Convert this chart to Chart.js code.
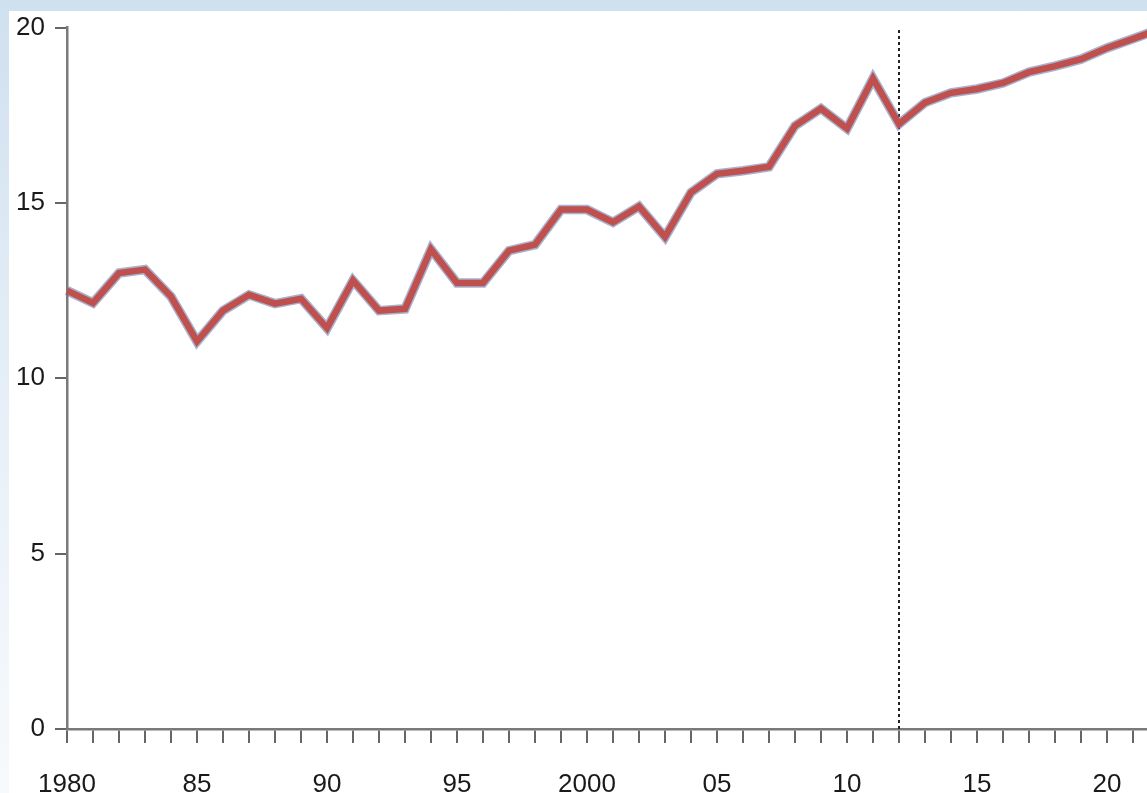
<!DOCTYPE html>
<html>
<head>
<meta charset="utf-8">
<script src="https://cdn.jsdelivr.net/npm/chart.js@4/dist/chart.umd.min.js"></script>
<style>
  html, body { margin: 0; padding: 0; width: 1147px; height: 793px; overflow: hidden; }
  body { background: linear-gradient(to bottom, #cfe0ef 0%, #e6eff7 50%, #f7fafc 100%); position: relative; }
  #panel { position: absolute; left: 9px; top: 11px; width: 1138px; height: 782px; background: #ffffff; overflow: hidden; }
  canvas { display: block; position: absolute; left: 0; top: -9px; }
</style>
</head>
<body>
<div id="panel"><canvas id="c" width="1150" height="791"></canvas></div>
<script>
const years = [1980,1981,1982,1983,1984,1985,1986,1987,1988,1989,
               1990,1991,1992,1993,1994,1995,1996,1997,1998,1999,
               2000,2001,2002,2003,2004,2005,2006,2007,2008,2009,
               2010,2011,2012,2013,2014,2015,2016,2017,2018,2019,
               2020,2021,2022];
const values = [12.5,12.15,13.0,13.1,12.33,11.05,11.93,12.38,12.13,12.27,
                11.43,12.79,11.93,11.98,13.68,12.72,12.72,13.64,13.81,14.81,
                14.81,14.45,14.9,14.03,15.3,15.83,15.92,16.03,17.2,17.69,
                17.12,18.55,17.25,17.86,18.14,18.25,18.42,18.73,18.9,19.1,
                19.42,19.68,19.95];
const forecastStartYear = 2012;
const yTicks = [0, 5, 10, 15, 20];
const xLabelFor = {1980:'1980',1985:'85',1990:'90',1995:'95',2000:'2000',2005:'05',2010:'10',2015:'15',2020:'20'};

const pts = years.map((y, i) => ({x: y, y: values[i]}));
const font = {family: "'Liberation Sans', Arial, Helvetica, sans-serif", size: 26};

new Chart(document.getElementById('c'), {
  type: 'line',
  data: {
    datasets: [
      { data: [{x: forecastStartYear, y: 0}, {x: forecastStartYear, y: 20}],
        borderColor: '#222', borderWidth: 2, borderDash: [3, 3], pointRadius: 0, order: 3 },
      { data: pts, borderColor: 'rgba(95,115,165,0.55)', borderWidth: 9.5, pointRadius: 0,
        tension: 0, order: 2, borderJoinStyle: 'miter', clip: 6 },
      { data: pts, borderColor: '#c0504d', borderWidth: 6.5, pointRadius: 0,
        tension: 0, order: 1, borderJoinStyle: 'miter', clip: 6 }
    ]
  },
  options: {
    responsive: false,
    animation: false,
    devicePixelRatio: 1,
    layout: { padding: { top: 8, right: 0, left: 0, bottom: 0 } },
    plugins: { legend: { display: false }, tooltip: { enabled: false } },
    scales: {
      x: {
        type: 'linear',
        min: 1980,
        max: 2021.55,
        afterBuildTicks: (s) => { s.ticks = years.filter(y => y <= 2021).map(v => ({value: v})); },
        afterFit: (s) => { s.height = 64; },
        border: { display: true, color: '#7a7a7a', width: 2.5 },
        grid: { display: true, drawOnChartArea: false, drawTicks: true, tickLength: 14, color: '#666', lineWidth: 2 },
        ticks: {
          autoSkip: false, maxRotation: 0, minRotation: 0, padding: 26,
          color: '#1a1a1a', font: font,
          callback: (v) => xLabelFor[v] || ''
        }
      },
      y: {
        min: 0,
        max: 20,
        afterBuildTicks: (s) => { s.ticks = yTicks.map(v => ({value: v})); },
        afterFit: (s) => { s.width = 58; },
        border: { display: true, color: '#7a7a7a', width: 2.5 },
        grid: { display: true, drawOnChartArea: false, drawTicks: true, tickLength: 12, color: '#666', lineWidth: 2 },
        ticks: { padding: 10, color: '#1a1a1a', font: font }
      }
    }
  }
});
</script>
</body>
</html>
